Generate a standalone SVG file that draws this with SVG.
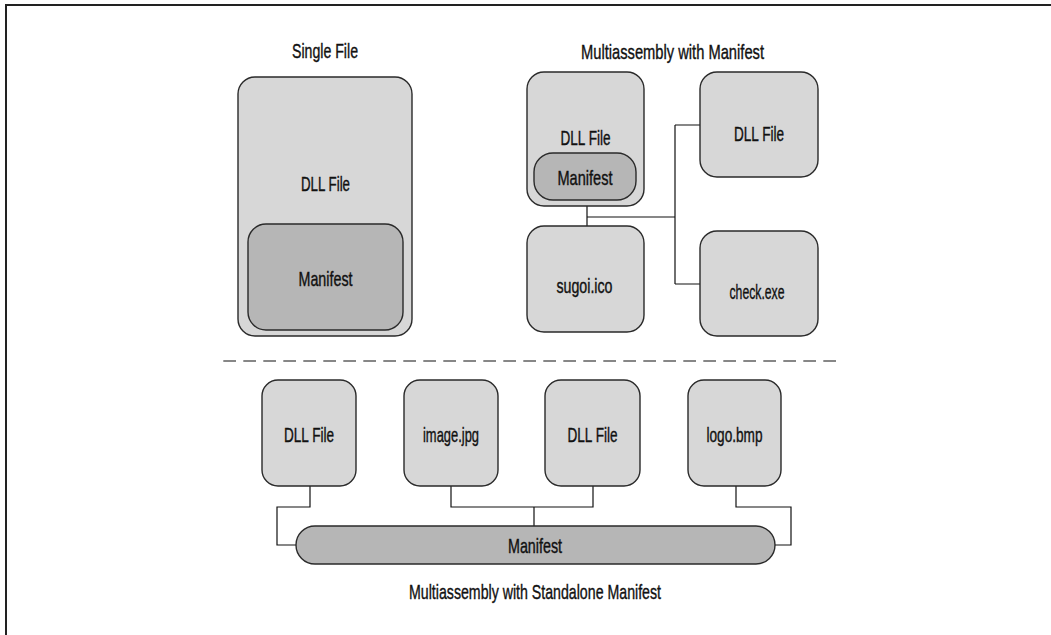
<svg xmlns="http://www.w3.org/2000/svg" width="1051" height="635" viewBox="0 0 1051 635">
<style>
.box{fill:#d7d7d7;stroke:#2a2a2a;stroke-width:1.4}
.man{fill:#b6b6b6;stroke:#2a2a2a;stroke-width:1.4}
.t{font-family:"Liberation Sans Narrow","Liberation Sans",Arial,sans-serif;font-size:21px;fill:#111;stroke:#111;stroke-width:0.4;text-anchor:middle}
.c{fill:none;stroke:#111;stroke-width:1.2}
</style>
<rect width="1051" height="635" fill="#fff"/>
<path d="M6 635V5H1051" fill="none" stroke="#222" stroke-width="2"/>
<text class="t" x="325" y="58" textLength="66" lengthAdjust="spacingAndGlyphs">Single File</text>
<text class="t" x="672.5" y="59" textLength="183" lengthAdjust="spacingAndGlyphs">Multiassembly with Manifest</text>
<text class="t" x="535" y="599" textLength="252" lengthAdjust="spacingAndGlyphs">Multiassembly with Standalone Manifest</text>
<g id="connectors">
<path class="c" d="M587 206V226M587 217H675M675 125V284M675 125H700M675 284H700"/>
<path class="c" d="M310 486V507H277V545H296"/>
<path class="c" d="M736 486V507H791V545H775"/>
<path class="c" d="M451 486V507H593V486M534 507V526"/>
<path d="M223.3 361H836" fill="none" stroke="#111" stroke-width="1.2" stroke-dasharray="12.7 7.3"/>
</g>
<g id="single-dll">
<rect class="box" x="238" y="77" width="174" height="259" rx="17"/>
<text class="t" x="325.5" y="191" textLength="49" lengthAdjust="spacingAndGlyphs">DLL File</text>
</g>
<g id="single-manifest">
<rect class="man" x="248" y="224" width="155" height="106" rx="18"/>
<text class="t" x="325.5" y="286" textLength="54" lengthAdjust="spacingAndGlyphs">Manifest</text>
</g>
<g id="multi-dll">
<rect class="box" x="527" y="72" width="117" height="134" rx="17"/>
<text class="t" x="585.5" y="144.5" textLength="50" lengthAdjust="spacingAndGlyphs">DLL File</text>
</g>
<g id="multi-manifest">
<rect class="man" x="534" y="153" width="102" height="47" rx="19"/>
<text class="t" x="585" y="184.5" textLength="55" lengthAdjust="spacingAndGlyphs">Manifest</text>
</g>
<g id="multi-dll2">
<rect class="box" x="700" y="72" width="118" height="105" rx="17"/>
<text class="t" x="759" y="141" textLength="50" lengthAdjust="spacingAndGlyphs">DLL File</text>
</g>
<g id="sugoi">
<rect class="box" x="527" y="226" width="117" height="106" rx="17"/>
<text class="t" x="584.5" y="293" textLength="56" lengthAdjust="spacingAndGlyphs">sugoi.ico</text>
</g>
<g id="check">
<rect class="box" x="700" y="231" width="118" height="105" rx="17"/>
<text class="t" x="757" y="299" textLength="55" lengthAdjust="spacingAndGlyphs">check.exe</text>
</g>
<g id="b-dll1">
<rect class="box" x="262" y="380" width="94" height="106" rx="16"/>
<text class="t" x="309" y="441.5" textLength="50" lengthAdjust="spacingAndGlyphs">DLL File</text>
</g>
<g id="b-image">
<rect class="box" x="404" y="380" width="94" height="106" rx="16"/>
<text class="t" x="451" y="441.5" textLength="56" lengthAdjust="spacingAndGlyphs">image.jpg</text>
</g>
<g id="b-dll2">
<rect class="box" x="545" y="380" width="95" height="106" rx="16"/>
<text class="t" x="592.5" y="441.5" textLength="50" lengthAdjust="spacingAndGlyphs">DLL File</text>
</g>
<g id="b-logo">
<rect class="box" x="688" y="380" width="93" height="106" rx="16"/>
<text class="t" x="734.5" y="441.5" textLength="56" lengthAdjust="spacingAndGlyphs">logo.bmp</text>
</g>
<g id="b-manifest">
<rect class="man" x="296" y="526" width="479" height="38" rx="19"/>
<text class="t" x="535" y="552.5" textLength="54" lengthAdjust="spacingAndGlyphs">Manifest</text>
</g>
</svg>
